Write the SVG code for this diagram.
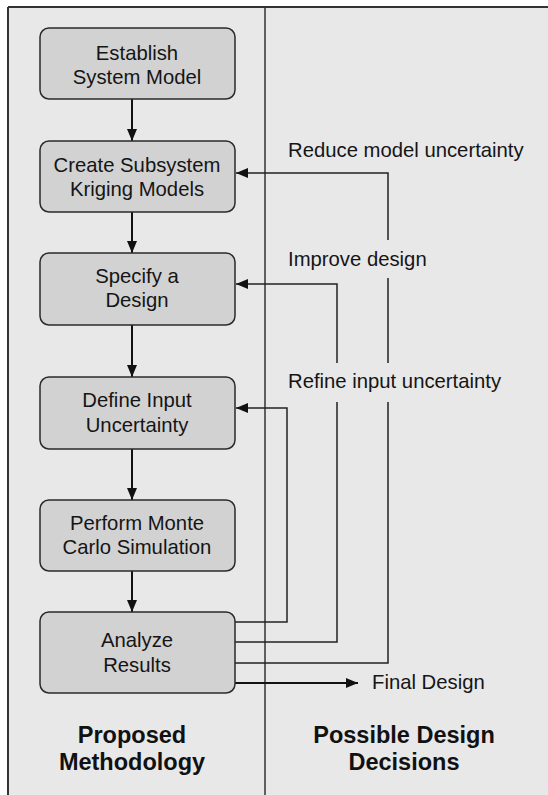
<svg xmlns="http://www.w3.org/2000/svg" width="548" height="795" viewBox="0 0 548 795">
<style>
.box{fill:#d2d2d2;stroke:#2a2a2a;stroke-width:1.5}
.t{font-family:"Liberation Sans",Arial,sans-serif;font-size:20.3px;fill:#151515}
.c{text-anchor:middle}
.b{font-family:"Liberation Sans",Arial,sans-serif;font-size:23.5px;font-weight:bold;fill:#111;text-anchor:middle}
.ln{fill:none;stroke:#111;stroke-width:2}
.thin{fill:none;stroke:#222;stroke-width:1.5}
</style>
<defs>
<marker id="ah" markerWidth="12" markerHeight="10" refX="12" refY="5" orient="auto" markerUnits="userSpaceOnUse">
<path d="M0,0 L12,5 L0,10 Z" fill="#111"/>
</marker>
</defs>
<rect x="0" y="0" width="548" height="795" fill="#ffffff"/>
<rect x="8" y="7" width="540" height="788" fill="#e8e8e8"/>
<g id="frame">
<line x1="8" y1="7" x2="548" y2="7" stroke="#333" stroke-width="2"/>
<line x1="8" y1="7" x2="8" y2="795" stroke="#333" stroke-width="2"/>
<line x1="265" y1="7" x2="265" y2="795" stroke="#333" stroke-width="1.5"/>
</g>
<g id="connectors">
<line class="ln" x1="132" y1="99" x2="132" y2="141" marker-end="url(#ah)"/>
<line class="ln" x1="132" y1="212" x2="132" y2="253" marker-end="url(#ah)"/>
<line class="ln" x1="132" y1="325" x2="132" y2="377" marker-end="url(#ah)"/>
<line class="ln" x1="132" y1="449" x2="132" y2="500" marker-end="url(#ah)"/>
<line class="ln" x1="132" y1="571" x2="132" y2="612" marker-end="url(#ah)"/>
<path class="thin" d="M235,663 H388 V402 M388,363 V278 M388,240 V173 H236" marker-end="url(#ah)"/>
<path class="thin" d="M235,642 H337 V402 M337,363 V284 H236" marker-end="url(#ah)"/>
<path class="thin" d="M235,622 H287 V408 H236" marker-end="url(#ah)"/>
<line class="ln" x1="235" y1="683" x2="358" y2="683" marker-end="url(#ah)"/>
</g>
<g id="n1"><rect class="box" x="40" y="28" width="195" height="71" rx="9"/>
<text class="t c" x="137" y="60">Establish</text><text class="t c" x="137" y="84">System Model</text></g>
<g id="n2"><rect class="box" x="40" y="141" width="195" height="71" rx="9"/>
<text class="t c" x="137" y="172">Create Subsystem</text><text class="t c" x="137" y="196">Kriging Models</text></g>
<g id="n3"><rect class="box" x="40" y="253" width="195" height="72" rx="9"/>
<text class="t c" x="137" y="283">Specify a</text><text class="t c" x="137" y="307">Design</text></g>
<g id="n4"><rect class="box" x="40" y="377" width="195" height="72" rx="9"/>
<text class="t c" x="137" y="407">Define Input</text><text class="t c" x="137" y="432">Uncertainty</text></g>
<g id="n5"><rect class="box" x="40" y="500" width="195" height="71" rx="9"/>
<text class="t c" x="137" y="530">Perform Monte</text><text class="t c" x="137" y="554">Carlo Simulation</text></g>
<g id="n6"><rect class="box" x="40" y="612" width="195" height="81" rx="9"/>
<text class="t c" x="137" y="647">Analyze</text><text class="t c" x="137" y="672">Results</text></g>
<g id="labels">
<text class="t" x="288" y="157">Reduce model uncertainty</text>
<text class="t" x="288" y="266">Improve design</text>
<text class="t" x="288" y="388">Refine input uncertainty</text>
<text class="t" x="372" y="689">Final Design</text>
<text class="b" x="132" y="743">Proposed</text>
<text class="b" x="132" y="770">Methodology</text>
<text class="b" x="404" y="743">Possible Design</text>
<text class="b" x="404" y="770">Decisions</text>
</g>
</svg>
